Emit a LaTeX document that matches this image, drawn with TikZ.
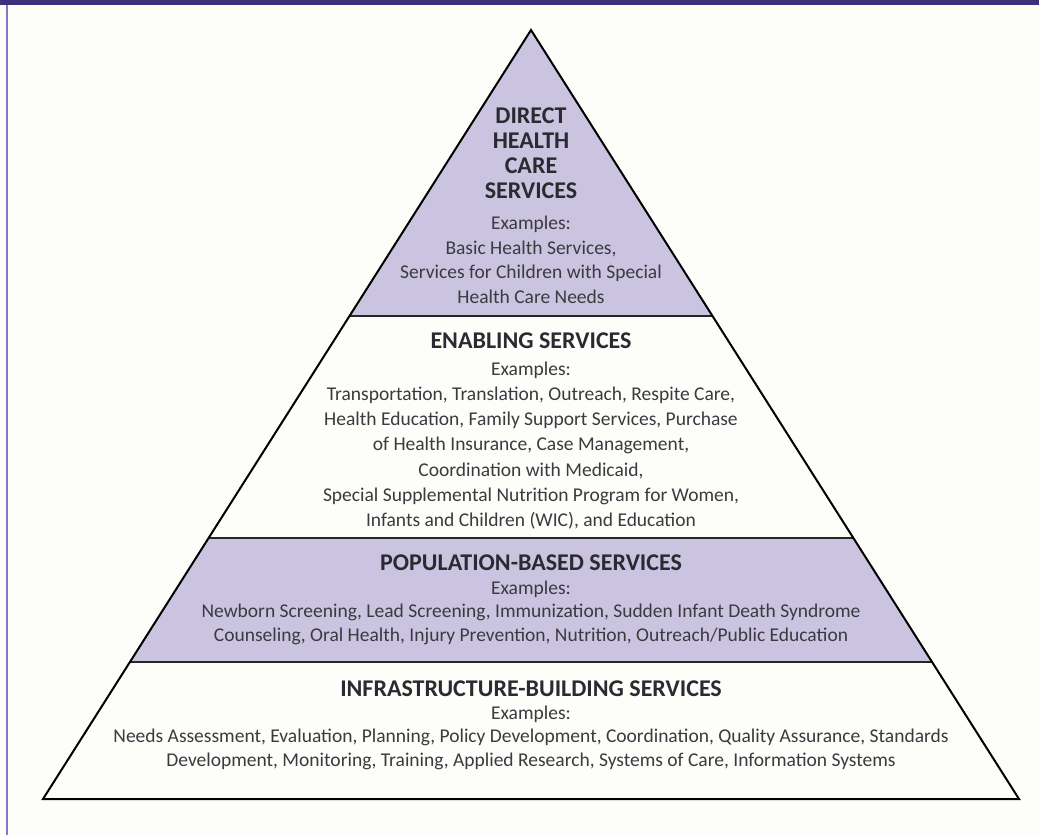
\documentclass[tikz,border=0pt]{standalone}
\usepackage{fontspec}
\setmainfont{Carlito}
\definecolor{bgc}{RGB}{253,253,250}
\definecolor{topbarc}{RGB}{62,48,122}
\definecolor{sidec}{RGB}{130,120,195}
\definecolor{lav}{RGB}{202,196,224}
\definecolor{headc}{RGB}{42,42,50}
\definecolor{bodyc}{RGB}{58,58,64}
\begin{document}
\begin{tikzpicture}[x=1pt,y=-1pt,
  outline/.style={draw=black,line width=2pt,line join=miter},
  divider/.style={draw=black!85,line width=2.6pt},
  layerfill/.style={fill=lav},
  head/.style={anchor=north,inner sep=0pt,align=center,text=headc,font=\fontsize{24}{25}\selectfont\bfseries},
  body/.style={anchor=north,inner sep=0pt,align=center,text=bodyc,font=\fontsize{19.5}{24.8}\selectfont}]
\useasboundingbox (0,0) rectangle (1039,835);
\fill[bgc] (0,0) rectangle (1039,835);
\draw[sidec,line width=2pt] (7,0) -- (7,835);
\fill[topbarc] (0,0) rectangle (1039,5);
% pyramid geometry
\coordinate (A) at (531,30);
\coordinate (BL) at (43,799);
\coordinate (BR) at (1019,799);
\coordinate (L1) at (349.5,316);
\coordinate (R1) at (712.5,316);
\coordinate (L2) at (208.6,538);
\coordinate (R2) at (853.4,538);
\coordinate (L3) at (129.9,662);
\coordinate (R3) at (932.1,662);
% shaded layers
\fill[layerfill] (A) -- (R1) -- (L1) -- cycle;
\fill[layerfill] (L2) -- (R2) -- (R3) -- (L3) -- cycle;
% dividers
\draw[divider] (L1) -- (R1);
\draw[divider] (L2) -- (R2);
\draw[divider] (L3) -- (R3);
\draw[outline] (A) -- (BR) -- (BL) -- cycle;
% texts
\node[head] (dhead) at (531,107.5) {DIRECT\\HEALTH\\CARE\\SERVICES};
\node[body] (dbody) at (531,215.6) {Examples:\\Basic Health Services,\\Services for Children with Special\\Health Care Needs};
\node[head] (ehead) at (531,332.5) {ENABLING SERVICES};
\node[body,font=\fontsize{19.5}{25.2}\selectfont] (ebody) at (531,361.6) {Examples:\\Transportation, Translation, Outreach, Respite Care,\\Health Education, Family Support Services, Purchase\\of Health Insurance, Case Management,\\Coordination with Medicaid,\\Special Supplemental Nutrition Program for Women,\\Infants and Children (WIC), and Education};
\node[head] (phead) at (531,554.5) {POPULATION-BASED SERVICES};
\node[body,font=\fontsize{19.5}{23.5}\selectfont] (pbody) at (531,580.6) {Examples:\\Newborn Screening, Lead Screening, Immunization, Sudden Infant Death Syndrome\\Counseling, Oral Health, Injury Prevention, Nutrition, Outreach/Public Education};
\node[head] (ihead) at (531,680.5) {INFRASTRUCTURE-BUILDING SERVICES};
\node[body,font=\fontsize{19.5}{23.5}\selectfont] (ibody) at (531,705.6) {Examples:\\Needs Assessment, Evaluation, Planning, Policy Development, Coordination, Quality Assurance, Standards\\Development, Monitoring, Training, Applied Research, Systems of Care, Information Systems};
\end{tikzpicture}
\end{document}
